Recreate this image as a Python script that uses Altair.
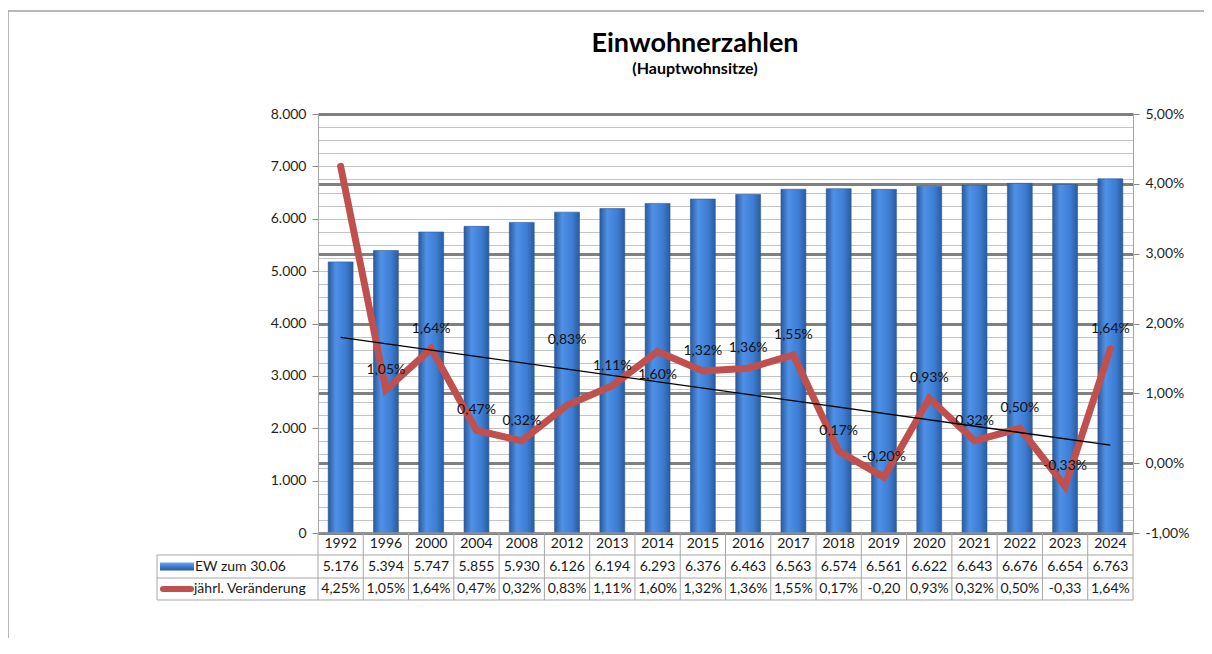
import altair as alt
import pandas as pd

# ---- data ----
years = ["1992", "1996", "2000", "2004", "2008", "2012", "2013", "2014", "2015",
         "2016", "2017", "2018", "2019", "2020", "2021", "2022", "2023", "2024"]
ew = [5176, 5394, 5747, 5855, 5930, 6126, 6194, 6293, 6376,
      6463, 6563, 6574, 6561, 6622, 6643, 6676, 6654, 6763]
pct = [4.25, 1.05, 1.64, 0.47, 0.32, 0.83, 1.11, 1.60, 1.32,
       1.36, 1.55, 0.17, -0.20, 0.93, 0.32, 0.50, -0.33, 1.64]
series_names = ["EW zum 30.06", "jährl. Veränderung"]
title_text = "Einwohnerzahlen"
subtitle_text = "(Hauptwohnsitze)"

# ---- styling / layout ----
FONT = "Lato"
W, H = 815, 419
ROW_EDGES = [H, H + 22, H + 45, H + 67]
LEFT_COL = -161
GRID = "#a6a6a6"
LABEL_NUDGE = {"2012": -65, "2014": 24}
DEFAULT_NUDGE = -20
HIDDEN_LABELS = ["1992"]

n = len(years)
df = pd.DataFrame({"year": years, "ew": ew, "pct": pct, "idx": list(range(n))})
df["nudge"] = [LABEL_NUDGE.get(y, DEFAULT_NUDGE) for y in years]
df["show"] = [y not in HIDDEN_LABELS for y in years]
bounds_df = pd.DataFrame({"b": [i - 0.5 for i in range(n + 1)]})
one = pd.DataFrame({"k": [0]})

pct_fmt = "(datum.pct < 0 ? '-' : '') + replace(format(abs(datum.pct), '.2f'), '.', ',')"

xband = alt.X("year:N", sort=years,
              scale=alt.Scale(domain=years, paddingInner=0.45, paddingOuter=0.225),
              axis=None)
xidx_scale = alt.Scale(domain=[-0.5, n - 0.5], nice=False, zero=False)
pct_scale = alt.Scale(domain=[-1, 5], nice=False, zero=False)

bar_grad = alt.Gradient(
    gradient="linear", x1=0, x2=1, y1=0, y2=0,
    stops=[alt.GradientStop(color="#2a5a9c", offset=0),
           alt.GradientStop(color="#4f91e6", offset=0.3),
           alt.GradientStop(color="#3d7ed4", offset=0.7),
           alt.GradientStop(color="#2b5b9e", offset=1)])

bars = alt.Chart(df).mark_bar(color=bar_grad, stroke="#2b5793", strokeWidth=0.6).encode(
    x=xband,
    y=alt.Y("ew:Q", scale=alt.Scale(domain=[0, 8000], nice=False),
            axis=alt.Axis(
                values=list(range(0, 8001, 250)), title=None,
                labelExpr="datum.value % 1000 === 0 ? replace(format(datum.value, ',d'), ',', '.') : ''",
                grid=True, gridColor="#c4c4c4", gridWidth=1,
                tickColor="#8c8c8c", tickSize=6,
                tickOpacity={"condition": {"test": "datum.value % 1000 === 0", "value": 1}, "value": 0},
                domainColor=GRID, labelFont=FONT, labelFontSize=14,
                labelColor="#1f1f1f", labelPadding=6)),
)

line = alt.Chart(df).mark_line(color="#c0504d", strokeWidth=7, strokeCap="round").encode(
    x=xband,
    y=alt.Y("pct:Q", scale=pct_scale,
            axis=alt.Axis(
                orient="right", values=[-1, 0, 1, 2, 3, 4, 5], title=None,
                labelExpr="(datum.value < 0 ? '-' : '') + replace(format(abs(datum.value), '.2f'), '.', ',') + '%'",
                grid=True, gridColor="#808080", gridWidth=2.8,
                tickColor="#8c8c8c", tickSize=6, domainColor=GRID,
                labelFont=FONT, labelFontSize=14, labelColor="#1f1f1f", labelPadding=6)),
)

trend = alt.Chart(df).transform_regression(
    "idx", "pct", extent=[0, n - 1]
).mark_line(color="black", strokeWidth=1.3).encode(
    x=alt.X("idx:Q", scale=xidx_scale, axis=None),
    y=alt.Y("pct:Q", scale=pct_scale, axis=None),
)

label_layers = []
for nv in sorted(set(df["nudge"])):
    label_layers.append(
        alt.Chart(df).transform_filter(
            f"datum.show && datum.nudge === {nv}"
        ).transform_calculate(
            lbl=pct_fmt + " + '%'"
        ).mark_text(font=FONT, fontSize=14, color="#111111", dy=int(nv)).encode(
            x=xband,
            y=alt.Y("pct:Q", scale=pct_scale, axis=None),
            text="lbl:N",
        )
    )

# ---- data table under the chart ----
def row_y(i):
    return (ROW_EDGES[i] + ROW_EDGES[i + 1]) / 2

tbl_year = alt.Chart(df).mark_text(font=FONT, fontSize=14, color="#1a1a1a").encode(
    x=xband, y=alt.value(row_y(0)), text="year:N")
tbl_ew = alt.Chart(df).transform_calculate(
    lbl="replace(format(datum.ew, ',d'), ',', '.')"
).mark_text(font=FONT, fontSize=14, color="#1a1a1a").encode(
    x=xband, y=alt.value(row_y(1)), text="lbl:N")
tbl_pct = alt.Chart(df).transform_calculate(
    lbl="datum.pct < 0 ? " + pct_fmt + " : " + pct_fmt + " + '%'"
).mark_text(font=FONT, fontSize=14, color="#1a1a1a").encode(
    x=xband, y=alt.value(row_y(2)), text="lbl:N")

vlines = alt.Chart(bounds_df).mark_rule(color=GRID, strokeWidth=1).encode(
    x=alt.X("b:Q", scale=xidx_scale, axis=None),
    y=alt.value(ROW_EDGES[0]), y2=alt.value(ROW_EDGES[3]))

hl = []
hl.append(alt.Chart(one).mark_rule(color=GRID, strokeWidth=1).encode(
    x=alt.value(0), x2=alt.value(W), y=alt.value(ROW_EDGES[0])))
for e in ROW_EDGES[1:]:
    hl.append(alt.Chart(one).mark_rule(color=GRID, strokeWidth=1).encode(
        x=alt.value(LEFT_COL), x2=alt.value(W), y=alt.value(e)))
hl.append(alt.Chart(one).mark_rule(color=GRID, strokeWidth=1).encode(
    x=alt.value(LEFT_COL), y=alt.value(ROW_EDGES[1]), y2=alt.value(ROW_EDGES[3])))

# series labels with legend symbols
name1 = alt.Chart(one).mark_text(font=FONT, fontSize=14, color="#1a1a1a", align="left").encode(
    x=alt.value(-123), y=alt.value(row_y(1)), text=alt.value(series_names[0]))
name2 = alt.Chart(one).mark_text(font=FONT, fontSize=14, color="#1a1a1a", align="left").encode(
    x=alt.value(-124), y=alt.value(row_y(2)), text=alt.value(series_names[1]))
sym_grad = alt.Gradient(
    gradient="linear", x1=0, x2=0, y1=0, y2=1,
    stops=[alt.GradientStop(color="#6fa6ea", offset=0),
           alt.GradientStop(color="#3b7bd0", offset=0.5),
           alt.GradientStop(color="#2a5a9c", offset=1)])
sym1 = alt.Chart(one).mark_rect(color=sym_grad).encode(
    x=alt.value(-158), x2=alt.value(-124),
    y=alt.value(row_y(1) - 4), y2=alt.value(row_y(1) + 4))
sym2 = alt.Chart(one).mark_rule(color="#c0504d", strokeWidth=6, strokeCap="round").encode(
    x=alt.value(-155), x2=alt.value(-127), y=alt.value(row_y(2)))

# title and subtitle
title = alt.Chart(one).mark_text(font=FONT, fontSize=27, fontWeight="bold",
                                 color="black", baseline="alphabetic").encode(
    x=alt.value(377), y=alt.value(-62), text=alt.value(title_text))
subtitle = alt.Chart(one).mark_text(font=FONT, fontSize=16, fontWeight="bold",
                                    color="black", baseline="alphabetic").encode(
    x=alt.value(377), y=alt.value(-40), text=alt.value(subtitle_text))

# outer chart-area frame (top and left edges)
frame_top = alt.Chart(one).mark_rule(color="#a0a0a0", strokeWidth=1.5).encode(
    x=alt.value(-310), x2=alt.value(W + 200), y=alt.value(-103))
frame_left = alt.Chart(one).mark_rule(color="#a0a0a0", strokeWidth=1.5).encode(
    x=alt.value(-310), y=alt.value(-103), y2=alt.value(H + 300))

chart = alt.layer(
    frame_top, frame_left, title, subtitle,
    bars, line, trend, *label_layers,
    vlines, *hl, tbl_year, tbl_ew, tbl_pct,
    name1, name2, sym1, sym2,
).resolve_scale(
    y="independent", x="independent"
).properties(
    width=W, height=H,
    autosize=alt.AutoSizeParams(type="none"),
    padding={"left": 310, "top": 106, "right": 71, "bottom": 105},
).configure_view(stroke=None)

chart.save("out.html", embed_options={"renderer": "svg", "actions": False})
